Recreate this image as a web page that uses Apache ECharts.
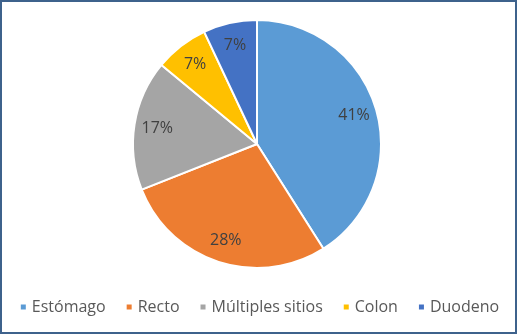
<!DOCTYPE html>
<html>
<head>
<meta charset="utf-8">
<script src="https://cdn.jsdelivr.net/npm/echarts@6/dist/echarts.min.js"></script>
<style>
html,body{margin:0;padding:0;background:#fff;}
#chart{width:518px;height:335px;}
</style>
</head>
<body>
<div id="chart"></div>
<script>
var categories = ['Estómago', 'Recto', 'Múltiples sitios', 'Colon', 'Duodeno'];
var values = [41, 28, 17, 7, 7];
var colors = ['#5B9BD5', '#ED7D31', '#A5A5A5', '#FFC000', '#4472C4'];

var data = categories.map(function (c, i) {
  return { name: c, value: values[i], itemStyle: { color: colors[i] } };
});
var labelData = categories.map(function (c, i) {
  return { name: c, value: values[i] };
});

var chart = echarts.init(document.getElementById('chart'));
chart.setOption({
  backgroundColor: '#ffffff',
  animation: false,
  graphic: [{
    type: 'rect',
    shape: { x: 1, y: 1, width: 515, height: 332 },
    style: { fill: 'none', stroke: '#3E628C', lineWidth: 2 },
    silent: true,
    z: 100
  }],
  legend: {
    bottom: 15,
    left: 'center',
    itemWidth: 7,
    itemHeight: 7,
    itemGap: 19,
    icon: 'rect',
    data: categories,
    textStyle: { fontFamily: 'Open Sans', fontSize: 16, color: '#595959' }
  },
  series: [
    {
      type: 'pie',
      center: [257, 144],
      radius: [0, 124],
      startAngle: 90,
      clockwise: true,
      avoidLabelOverlap: false,
      data: data,
      itemStyle: { borderColor: '#ffffff', borderWidth: 2 },
      label: { show: false },
      labelLine: { show: false },
      silent: true
    },
    {
      type: 'pie',
      center: [257, 144],
      radius: [0, 196],
      startAngle: 90,
      clockwise: true,
      avoidLabelOverlap: false,
      data: labelData,
      itemStyle: { color: 'rgba(0,0,0,0)', borderWidth: 0 },
      label: {
        show: true,
        position: 'inside',
        formatter: '{c}%',
        fontFamily: 'Open Sans',
        fontSize: 16,
        color: '#404040'
      },
      labelLine: { show: false },
      silent: true,
      legendHoverLink: false
    }
  ]
});
</script>
</body>
</html>
